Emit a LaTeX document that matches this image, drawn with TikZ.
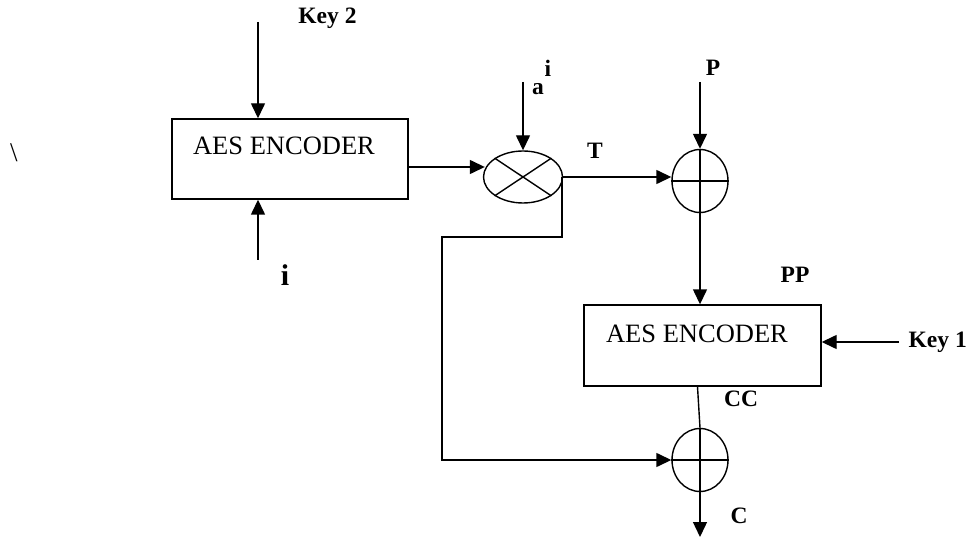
\documentclass[tikz,border=0pt]{standalone}
\usepackage{fontspec}
\setmainfont{Liberation Serif}
\usetikzlibrary{arrows.meta,shapes.geometric,calc}
\begin{document}
\begin{tikzpicture}[x=1pt,y=-1pt,line width=1.4pt,
  arr/.style={-{Triangle[length=15pt,width=14pt]}},
  aesbox/.style={draw,rectangle,minimum width=236pt,minimum height=80pt,inner sep=0pt},
  aestext/.style={anchor=base,font=\fontsize{26.5}{30}\selectfont,inner sep=0pt},
  lbl/.style={anchor=base,font=\fontsize{23.5}{28}\selectfont\bfseries,inner sep=0pt},
  xorc/.style={draw,ellipse,minimum width=56pt,minimum height=63pt,inner sep=0pt},
  mulc/.style={draw,ellipse,minimum width=79pt,minimum height=52pt,inner sep=0pt}]
\useasboundingbox (0,0) rectangle (966,537);
% nodes
\node[aesbox] (b1) at (290,159) {};
\node[aestext] (t1) at (284,155) {AES ENCODER};
\node[mulc] (m) at (523,177) {};
\node[xorc] (x1) at (700,181) {};
\node[aesbox,minimum width=237pt,minimum height=81pt] (b2) at (702.5,345.5) {};
\node[aestext] (t2) at (697,342) {AES ENCODER};
\node[xorc] (x2) at (700,460) {};
% symbol strokes
\draw (m.north west) -- (m.south east) (m.north east) -- (m.south west);
\draw (x1.north) -- (x1.south) (x1.west) -- (x1.east);
\draw (x2.north) -- (x2.south) (x2.west) -- (x2.east);
% labels
\node[lbl] (lk2) at (327.5,24) {Key 2};
\node[lbl,font=\fontsize{30}{34}\selectfont\bfseries] (li) at (285,285) {i};
\node[lbl] (la) at (538,95) {a};
\node[lbl] (lai) at (548,77) {i};
\node[lbl] (lT) at (595,159) {T};
\node[lbl] (lP) at (713,76) {P};
\node[lbl] (lPP) at (795,283) {PP};
\node[lbl,anchor=base west] (lk1) at (908,347) {Key 1};
\node[lbl] (lCC) at (741,406) {CC};
\node[lbl] (lC) at (739,523) {C};
\node[anchor=base,font=\fontsize{27}{30}\selectfont,inner sep=0pt] (bs) at (14,162) {\textbackslash};
% free ends
\coordinate (k2) at (258,22);
\coordinate (iin) at (258,260);
\coordinate (ain) at (523,82);
\coordinate (pin) at (700,82);
\coordinate (k1) at (899,342);
\coordinate (cout) at (700,537);
\coordinate (fb1) at (562,237);
\coordinate (fb2) at (442,237);
% connectors
\draw[arr] (k2) -- (k2 |- b1.north);
\draw[arr] (iin) -- (iin |- b1.south);
\draw[arr] ($(b1.east)+(0,8)$) -- ($(m.west)+(2,-10)$);
\draw[arr] (ain) -- (m.north);
\draw[arr] (m.east) -- (m.east -| x1.west);
\draw[arr] (pin) -- (x1.north);
\draw[arr] (x1.south) -- (x1.south |- b2.north);
\draw[arr] (k1) -- (k1 -| b2.east);
\draw ($(b2.south)+(-5,0)$) -- (x2.north);
\draw[arr] (x2.south) -- (cout);
\draw[arr] (m.east -| fb1) -- (fb1) -- (fb2) -- (fb2 |- x2.west) -- (x2.west);
\end{tikzpicture}
\end{document}
